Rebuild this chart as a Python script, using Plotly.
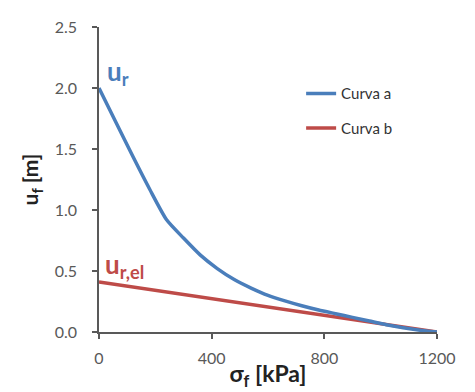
import plotly.graph_objects as go

# data
sigma_a = [0, 60, 120, 180, 240, 300, 360, 420, 480, 540, 600, 660, 720, 780, 840, 900, 960, 1020, 1080, 1140, 1200]
u_a = [2.0, 1.72, 1.44, 1.17, 0.92, 0.77, 0.63, 0.52, 0.43, 0.36, 0.30, 0.255, 0.215, 0.18, 0.15, 0.12, 0.09, 0.06, 0.035, 0.015, 0.0]
sigma_b = [0, 1200]
u_b = [0.41, 0.0]
names = ["Curva a", "Curva b"]
x_ticks = [0, 400, 800, 1200]
y_ticks = [0.0, 0.5, 1.0, 1.5, 2.0, 2.5]

BLUE = "#4A7EBB"
RED = "#BE4B48"
FONT = "Lato, Open Sans, sans-serif"

fig = go.Figure()
fig.add_trace(go.Scatter(x=sigma_b, y=u_b, mode="lines", name=names[1],
                         line=dict(color=RED, width=3.5), legendgroup="b", legendrank=2))
fig.add_trace(go.Scatter(x=sigma_a, y=u_a, mode="lines", name=names[0],
                         line=dict(color=BLUE, width=3.5, shape="spline", smoothing=0.6),
                         legendgroup="a", legendrank=1))

fig.add_annotation(x=0, y=2.0, xref="x", yref="y", text="<b>u<sub>r</sub></b>",
                   showarrow=False, xanchor="left", yanchor="bottom", xshift=6, yshift=-4,
                   font=dict(family=FONT, size=26, color=BLUE))
fig.add_annotation(x=0, y=0.41, xref="x", yref="y", text="<b>u<sub>r,el</sub></b>",
                   showarrow=False, xanchor="left", yanchor="bottom", xshift=4, yshift=-3,
                   font=dict(family=FONT, size=26, color=RED))

# page body has an 8px margin, so the figure is drawn 8px in from the top-left
fig.update_layout(
    width=467, height=384,
    margin=dict(l=91, r=38, t=19, b=60, autoexpand=False),
    paper_bgcolor="white", plot_bgcolor="white",
    font=dict(family=FONT, color="#595959", size=16),
    legend=dict(x=0.598, y=0.835, xanchor="left", yanchor="top",
                font=dict(family=FONT, size=15, color="#333333"),
                tracegroupgap=12, bgcolor="rgba(0,0,0,0)", traceorder="grouped"),
    showlegend=True,
)
fig.update_xaxes(range=[0, 1200], tickvals=x_ticks, showgrid=False, zeroline=False,
                 showline=True, linecolor="#595959", linewidth=1.5, automargin=False,
                 ticks="outside", ticklen=5, tickcolor="#595959", tickwidth=1.5,
                 ticklabelstandoff=6,
                 title=dict(text="<b>σ<sub>f</sub> [kPa]</b>", standoff=0,
                            font=dict(family=FONT, size=23, color="#222222")))
fig.update_yaxes(range=[0, 2.5], tickvals=y_ticks, tickformat=".1f", showgrid=False, zeroline=False,
                 showline=True, linecolor="#595959", linewidth=1.5, automargin=False,
                 ticks="outside", ticklen=5, tickcolor="#595959", tickwidth=1.5,
                 ticklabelstandoff=12,
                 title=dict(text="<b>u<sub>f</sub> [m]</b>", standoff=10,
                            font=dict(family=FONT, size=21, color="#222222")))

fig.write_html("out.html")
